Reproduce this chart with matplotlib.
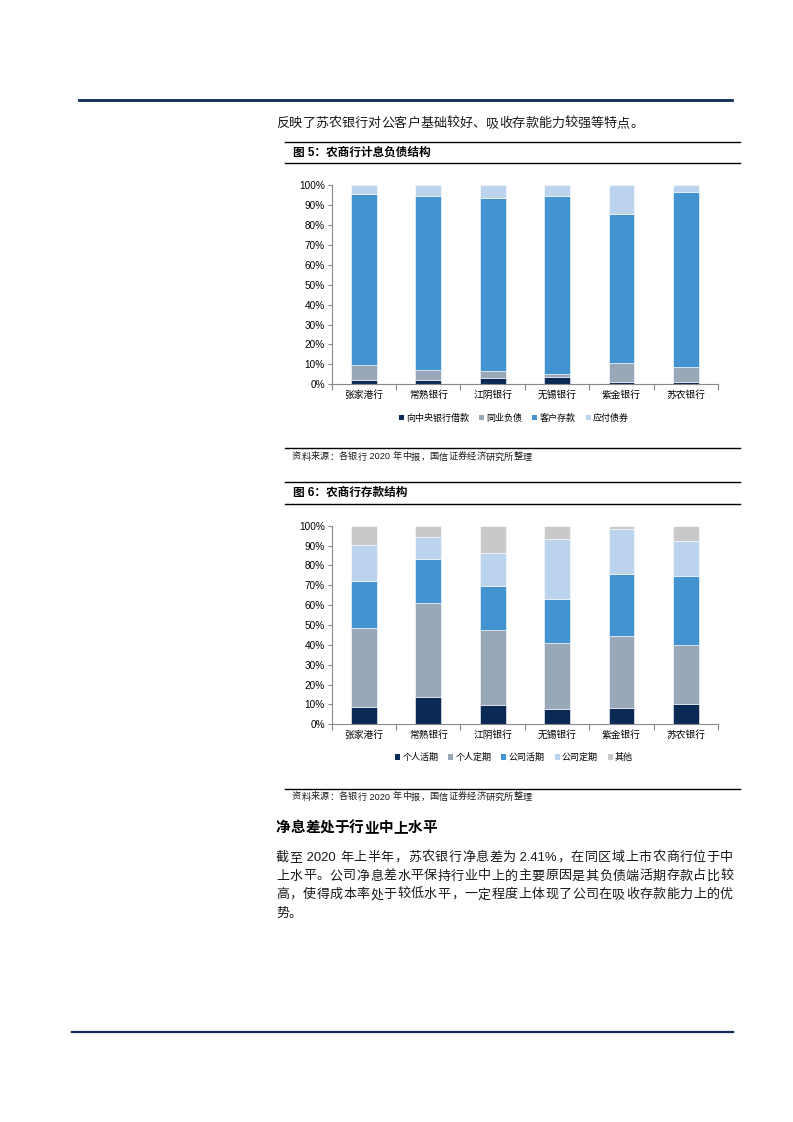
import matplotlib
matplotlib.use("Agg")
import matplotlib.pyplot as plt
from matplotlib.patches import Patch
from matplotlib.lines import Line2D

plt.rcParams["font.family"] = ["Liberation Sans", "Noto Sans CJK SC"]

W, H = 793, 1122

banks = ["张家港行", "常熟银行", "江阴银行", "无锡银行", "紫金银行", "苏农银行"]

# 图5 计息负债结构 (%)
liab_names = ["向中央银行借款", "同业负债", "客户存款", "应付债券"]
borrow_cb = [2.3, 2.2, 3.0, 3.7, 1.2, 1.3]
interbank = [7.6, 5.0, 3.9, 1.7, 9.5, 7.4]
deposits = [85.6, 87.1, 86.7, 89.2, 74.9, 88.0]
bonds = [4.5, 5.7, 6.4, 5.4, 14.4, 3.3]

# 图6 存款结构 (%)
dep_names = ["个人活期", "个人定期", "公司活期", "公司定期", "其他"]
pers_demand = [8.9, 13.8, 9.7, 7.7, 8.2, 10.2]
pers_time = [39.4, 47.3, 37.8, 33.2, 36.4, 29.7]
corp_demand = [23.8, 22.1, 22.3, 22.0, 31.1, 34.6]
corp_time = [18.2, 10.9, 16.3, 30.4, 22.6, 17.8]
other = [9.7, 5.9, 13.9, 6.7, 1.7, 7.7]

liab_colors = ["#0a2a55", "#98a8b8", "#4293d0", "#bcd3ee"]
dep_colors = ["#0a2a55", "#98a8b8", "#4293d0", "#bcd3ee", "#c9c9c9"]

fig = plt.figure(figsize=(W / 100, H / 100), dpi=100)


def fx(x):
    return x / W


def fy(y):
    return 1 - y / H


def hline(y, x0, x1, color="black", lw=1.0):
    fig.add_artist(Line2D([fx(x0), fx(x1)], [fy(y), fy(y)], color=color, lw=lw,
                          transform=fig.transFigure))


def text(x, y, s, size, **kw):
    return fig.text(fx(x), fy(y), s, fontsize=size, va="center", **kw)


def justify(s, x0, x1, y, size, color="#1a1a1a", **kw):
    # split into CJK chars and ascii runs, then spread across the line
    tokens = []
    buf = ""
    for ch in s:
        if ord(ch) < 128:
            buf += ch
        else:
            if buf:
                tokens.append(buf)
                buf = ""
            tokens.append(ch)
    if buf:
        tokens.append(buf)
    r = fig.canvas.get_renderer()
    widths = []
    for t in tokens:
        tt = fig.text(0, 0, t, fontsize=size, **kw)
        widths.append(tt.get_window_extent(r).width)
        tt.remove()
    gap = (x1 - x0 - sum(widths)) / max(len(tokens) - 1, 1)
    x = x0
    for t, w in zip(tokens, widths):
        text(x, y, t, size, color=color, **kw)
        x += w + gap


def stacked(ax, series, colors):
    x = range(len(banks))
    bottom = [0.0] * len(banks)
    for vals, c in zip(series, colors):
        ax.bar(x, [v / 100 for v in vals], 0.4, bottom=bottom, color=c,
               edgecolor="white", linewidth=0.4)
        bottom = [b + v / 100 for b, v in zip(bottom, vals)]
    ax.set_xlim(-0.5, len(banks) - 0.5)
    ax.set_ylim(0, 1)
    ax.set_yticks([i / 10 for i in range(11)])
    ax.set_yticklabels([f"{i * 10}%" for i in range(11)], fontsize=7.2)
    ax.set_xticks(list(x))
    ax.set_xticklabels(banks, fontsize=7)
    ax.set_xticks([i - 0.5 for i in range(len(banks) + 1)], minor=True)
    ax.tick_params(axis="x", which="major", length=0, pad=4)
    ax.tick_params(axis="x", which="minor", length=4, color="#888888", width=0.8)
    ax.tick_params(axis="y", length=3, color="#888888", width=0.8, pad=2)
    for sp in ["top", "right"]:
        ax.spines[sp].set_visible(False)
    for sp in ["left", "bottom"]:
        ax.spines[sp].set_color("#888888")
        ax.spines[sp].set_linewidth(0.8)


def legend(names, colors, y):
    handles = [Patch(facecolor=c, edgecolor="none") for c in colors]
    fig.legend(handles, names, loc="center", bbox_to_anchor=(fx(514), fy(y)),
               ncol=len(names), frameon=False, fontsize=6.5,
               handlelength=0.55, handleheight=0.55, handletextpad=0.25,
               columnspacing=1.1)


# page header / footer rules
hline(100, 79, 732, color="#0d2b55", lw=2.0)
hline(1032, 72, 733, color="#0d2b55", lw=1.6)

justify("反映了苏农银行对公客户基础较好、吸收存款能力较强等特点。", 276, 643, 124, 9.4)

# figure 5
hline(142, 285, 740)
hline(163, 285, 740)
text(293, 153, "图 5：农商行计息负债结构", 8.4, weight="bold")
ax1 = fig.add_axes([fx(331.7), fy(384.3), fx(718) - fx(331.7), fy(185) - fy(384.3)])
stacked(ax1, [borrow_cb, interbank, deposits, bonds], liab_colors)
legend(liab_names, liab_colors, 418)
hline(448, 285, 740)
justify("资料来源：各银行 2020 年中报，国信证券经济研究所整理", 292, 532, 457, 6.6)

# figure 6
hline(482, 285, 740)
hline(504, 285, 740)
text(293, 493, "图 6：农商行存款结构", 8.4, weight="bold")
ax2 = fig.add_axes([fx(331.7), fy(724.3), fx(718) - fx(331.7), fy(525.7) - fy(724.3)])
stacked(ax2, [pers_demand, pers_time, corp_demand, corp_time, other], dep_colors)
legend(dep_names, dep_colors, 757.5)
hline(789, 285, 740)
justify("资料来源：各银行 2020 年中报，国信证券经济研究所整理", 292, 532, 797, 6.6)

# section text
justify("净息差处于行业中上水平", 276, 437, 828, 10.5, color="black", weight="bold")
body = [
    "截至 2020 年上半年，苏农银行净息差为 2.41%，在同区域上市农商行位于中",
    "上水平。公司净息差水平保持行业中上的主要原因是其负债端活期存款占比较",
    "高，使得成本率处于较低水平，一定程度上体现了公司在吸收存款能力上的优",
]
for i, line in enumerate(body):
    justify(line, 276, 733, 858 + i * 18.5, 9.4)
text(276, 858 + 3 * 18.5, "势。", 9.4, color="#1a1a1a")

fig.savefig("out.png", dpi=100)
